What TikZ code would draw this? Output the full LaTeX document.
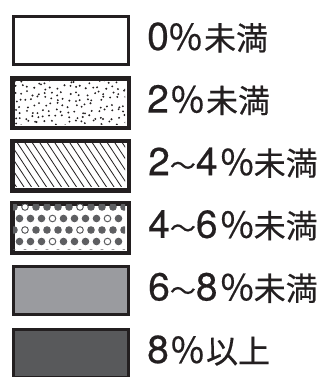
\documentclass[tikz,border=0pt]{standalone}
\usepackage{fontspec}
\setmainfont{TeX Gyre Heros}
\newfontfamily\digfont[FakeBold=0.5]{TeX Gyre Heros}
\newfontfamily\cjk[FakeBold=0.4]{Noto Sans CJK JP}
\definecolor{edge}{HTML}{231F20}
\definecolor{dotgray}{HTML}{5E5F62}
\definecolor{midgray}{HTML}{9A9B9F}
\definecolor{darkgray}{HTML}{58595B}
\tikzset{
  legbox/.style={draw=edge, line width=3pt, minimum width=115pt, minimum height=48pt, anchor=north west, inner sep=0pt},
  legtext/.style={anchor=base west, inner sep=0pt, text=edge},
  hatchline/.style={draw=edge, line width=0.8pt},
}
\newcommand{\dg}[1]{{\digfont\fontsize{39}{44}\selectfont #1}}
\newcommand{\jp}[1]{{\cjk\fontsize{32}{40}\selectfont #1}}
\newcommand{\pc}{{\cjk\fontsize{36}{40}\selectfont \%}}
\newcommand{\tl}{{\cjk\fontsize{26}{30}\selectfont 〜}}
\begin{document}
\begin{tikzpicture}[x=1pt,y=-1pt]
\useasboundingbox (0,0) rectangle (320,377);
% box 1 : empty
\node[legbox, fill=white] (b1) at (11.5,15) {};
% box 2 : stipple
\node[legbox, fill=white] (b2) at (11.5,77.6) {};
\begin{scope}
  \clip (13,79.1) rectangle (125,124.1);
  \pgfmathsetseed{7}
  \foreach \i in {0,...,18} {
    \foreach \j in {0,...,7} {
      \pgfmathsetmacro\rx{15+6*\i+2.6*rand}
      \pgfmathsetmacro\ry{81+6*\j+2.6*rand}
      \fill[edge] (\rx,\ry) circle (1.05pt);
    }
  }
\end{scope}
\draw[edge, line width=3pt] (b2.north west) rectangle (b2.south east);
% box 3 : hatching
\node[legbox, fill=white] (b3) at (11.5,140.2) {};
\begin{scope}
  \clip (13,141.7) rectangle (125,186.7);
  \foreach \k in {-5,...,16} {
    \draw[hatchline] (8+7.5*\k,140) -- ++(33,50);
  }
\end{scope}
\draw[edge, line width=3pt] (b3.north west) rectangle (b3.south east);
% box 4 : dots
\node[legbox, fill=white] (b4) at (11.5,202.8) {};
\begin{scope}
  \clip (13,204.3) rectangle (125,249.3);
  \foreach \ry/\off/\h in {207/0/1, 218.5/5.5/3, 230/0/1, 241.5/5.5/3, 253/0/1} {
    \foreach \c in {-1,...,10} {
      \pgfmathtruncatemacro\hol{mod(\c+10,5)==\h ? 1 : 0}
      \ifnum\hol=1
        \draw[dotgray, line width=1pt, fill=white] (14+\off+11*\c,\ry) circle (3.3pt);
      \else
        \fill[dotgray] (14+\off+11*\c,\ry) circle (3.8pt);
      \fi
    }
  }
\end{scope}
\draw[edge, line width=3pt] (b4.north west) rectangle (b4.south east);
% box 5 : mid gray
\node[legbox, fill=midgray] (b5) at (11.5,265.4) {};
% box 6 : dark gray
\node[legbox, fill=darkgray] (b6) at (11.5,328) {};
% labels
\node[legtext] (t1) at (147,50) {\dg{0}\pc\hspace{2pt}\jp{未満}};
\node[legtext] (t2) at (147,112.6) {\dg{2}\hspace{2pt}\pc\hspace{2pt}\jp{未満}};
\node[legtext] (t3) at (148,175.2) {\dg{2}\tl\dg{4}\hspace{3pt}\pc\jp{未満}};
\node[legtext] (t4) at (148,237.8) {\dg{4}\tl\dg{6}\hspace{3pt}\pc\jp{未満}};
\node[legtext] (t5) at (148,300.4) {\dg{6}\tl\dg{8}\hspace{3pt}\pc\jp{未満}};
\node[legtext] (t6) at (147,363) {\dg{8}\hspace{2pt}\pc\hspace{2pt}\jp{以上}};
\end{tikzpicture}
\end{document}
